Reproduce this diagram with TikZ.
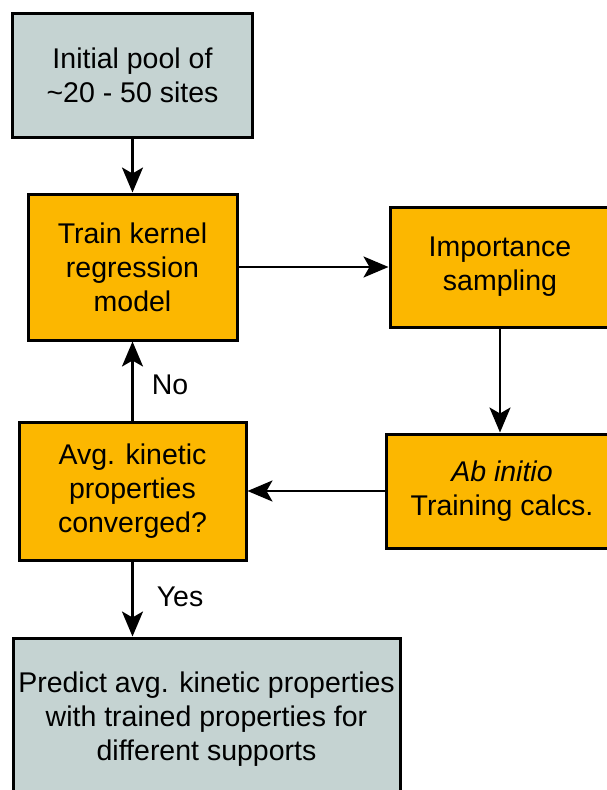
\documentclass[tikz,border=0pt]{standalone}
\usepackage{fontspec}
\setmainfont{Liberation Sans}
\usetikzlibrary{arrows.meta}
\definecolor{boxgrey}{RGB}{197,211,210}
\definecolor{boxorange}{RGB}{252,183,0}
\begin{document}
\begin{tikzpicture}[x=1pt,y=-1pt,
  box/.style={draw=black,line width=3pt,inner sep=0pt,align=center,
    font=\fontsize{28.5}{34}\selectfont},
  greybox/.style={box,fill=boxgrey},
  orangebox/.style={box,fill=boxorange},
  conn/.style={line width=2.5pt,-{Stealth[length=25pt,width=21pt,inset=6pt]}},
  lbl/.style={font=\fontsize{28.5}{34}\selectfont,inner sep=0pt}]
\useasboundingbox (0,0) rectangle (607,790);
\node[greybox,minimum width=240pt,minimum height=124pt] (init) at (132.5,75) {Initial pool of\\\textasciitilde20 - 50 sites};
\node[orangebox,minimum width=209pt,minimum height=146pt] (train) at (132.5,267) {Train kernel\\regression\\model};
\node[orangebox,minimum width=220pt,minimum height=120pt] (imp) at (500,267) {Importance\\sampling};
\node[orangebox,minimum width=232pt,minimum height=114pt] (abin) at (502,491) {\textit{Ab initio}\\Training calcs.};
\node[orangebox,minimum width=227pt,minimum height=138pt] (avg) at (132.5,491) {Avg. kinetic\\properties\\converged?};
\node[greybox,minimum width=387pt,minimum height=156pt,text depth=0pt] (pred) at (206.5,716) {Predict avg. kinetic properties\\with trained properties for\\different supports};
\draw[conn] (init.south) -- (train.north);
\draw[conn] (train.east) -- (imp.west);
\draw[conn] (imp.south) -- (imp.south |- abin.north);
\draw[conn] (abin.west) -- (avg.east);
\draw[conn] (avg.north) -- (train.south);
\draw[conn] (avg.south) -- (avg.south |- pred.north);
\node[lbl] (no) at (170,385) {No};
\node[lbl] (yes) at (180,597) {Yes};
\end{tikzpicture}
\end{document}
